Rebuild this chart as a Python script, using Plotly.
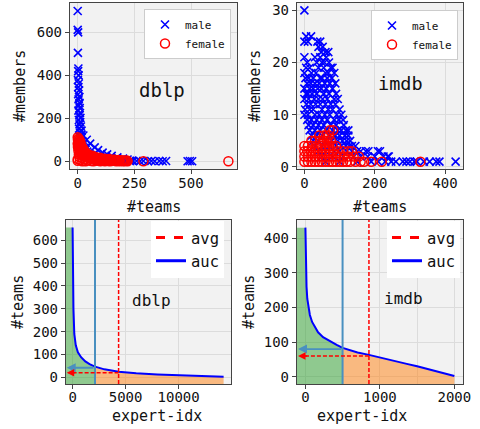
import plotly.graph_objects as go

FONT = "DejaVu Sans Mono"

# ---------------- data ----------------
# dblp: (#teams, #members)
dblp_male = [
    (0, 700), (0, 612), (2, 600), (1, 505), (3, 432), (2, 420), (4, 400), (1, 378), (5, 362), (3, 345),
    (6, 330), (2, 312), (7, 300), (4, 288), (8, 272), (5, 260), (9, 248), (3, 236), (10, 225), (7, 214),
    (12, 202), (5, 192), (11, 182), (8, 172), (14, 162), (6, 152), (17, 143), (13, 142), (10, 133), (25, 120),
    (17, 124), (8, 116), (16, 108), (12, 100), (40, 100), (20, 93), (15, 86), (24, 80), (55, 82), (10, 74),
    (22, 68), (75, 65), (30, 63), (18, 58), (35, 54), (90, 52), (26, 50), (42, 45), (32, 41), (110, 40),
    (48, 37), (20, 34), (130, 32), (55, 31), (38, 28), (62, 25), (150, 25), (45, 22), (72, 20), (175, 18),
    (55, 18), (82, 16), (65, 14), (95, 12), (200, 12), (75, 11), (110, 10), (88, 9), (125, 8), (220, 8),
    (100, 7), (140, 6), (115, 6), (155, 5), (130, 4), (170, 4), (150, 3), (190, 3), (240, 3), (175, 2),
    (210, 2), (200, 1), (230, 2), (245, 1), (260, 1), (275, 0), (290, 1), (310, 0), (325, 1), (340, 0),
    (360, 1), (375, 0), (390, 1), (485, 0), (495, 1), (505, 0),
]
dblp_female = [
    (0, 112), (3, 106), (1, 100), (5, 96), (2, 90), (7, 86), (0, 82), (9, 78), (4, 74), (11, 70),
    (1, 66), (14, 62), (6, 58), (18, 54), (3, 50), (22, 47), (10, 44), (28, 41), (15, 38), (35, 35),
    (5, 32), (42, 30), (20, 28), (50, 26), (30, 24), (58, 22), (8, 20), (65, 19), (40, 18), (75, 16),
    (20, 15), (85, 14), (50, 13), (95, 12), (0, 10), (105, 11), (60, 10), (115, 9), (30, 8), (125, 8),
    (75, 7), (135, 7), (10, 6), (145, 6), (90, 5), (155, 5), (45, 4), (165, 4), (110, 3), (175, 3),
    (0, 2), (185, 2), (130, 2), (195, 2), (60, 1), (205, 1), (150, 1), (212, 1), (20, 0), (220, 0),
    (100, 0), (170, 0), (8, 100), (12, 90), (3, 84), (15, 76), (8, 64), (20, 66), (12, 52), (26, 56),
    (18, 44), (32, 46), (25, 34), (40, 38), (35, 28), (48, 32), (45, 22), (66, 26), (55, 16), (80, 20),
    (68, 12), (100, 16), (82, 10), (120, 12), (95, 8), (140, 10), (105, 5), (160, 8), (120, 6), (180, 6),
    (135, 4), (195, 5), (148, 3), (208, 4), (160, 2), (218, 3), (35, 0), (70, 0), (85, 2), (120, 0),
    (140, 0), (185, 0), (200, 0), (290, 0), (665, 0),
]

# imdb: rows of (#members, [#teams ...])
imdb_male = [
    (30, [0]),
    (25, [5, 19]),
    (24, [0, 10, 37, 45]),
    (23, [40, 52]),
    (22, [48, 60, 68]),
    (21, [0, 30, 45, 62]),
    (20, [8, 35, 50, 57, 70]),
    (19, [5, 15, 40, 55, 75, 80]),
    (18, [0, 20, 33, 60, 68, 85]),
    (17, [3, 12, 25, 45, 50, 65, 78]),
    (16, [8, 18, 30, 42, 58, 72, 88]),
    (15, [0, 15, 25, 38, 48, 62, 80]),
    (14, [5, 10, 22, 35, 55, 70, 90]),
    (13, [0, 12, 28, 40, 52, 65, 85, 95]),
    (12, [6, 18, 32, 45, 60, 75, 88]),
    (11, [2, 15, 25, 50, 68, 80, 100]),
    (10, [0, 10, 30, 42, 58, 72, 92, 105]),
    (9, [8, 20, 35, 50, 65, 85, 98, 110]),
    (8, [12, 25, 40, 55, 75, 90, 112]),
    (7, [15, 30, 45, 62, 80, 95, 105, 118, 125]),
    (6, [20, 35, 50, 70, 88, 100, 115, 125]),
    (5, [25, 40, 60, 78, 95, 108, 120, 130]),
    (4, [30, 50, 70, 90, 105, 118, 128, 135, 145]),
    (3, [40, 60, 85, 100, 120, 135, 150, 160, 175, 182, 209, 215]),
    (2, [50, 80, 110, 140, 160, 180, 200, 225, 237, 240]),
    (1, [60, 100, 150, 190, 210, 230, 247, 260, 280, 290, 300, 313, 320, 340, 356, 375, 384, 430]),
]
imdb_female = [
    (7, [72, 82]),
    (6, [42, 55, 62, 70]),
    (5, [20, 30, 45, 55, 65, 75]),
    (4, [0, 10, 22, 35, 48, 60, 70, 80, 90]),
    (3, [0, 8, 18, 28, 38, 50, 60, 70, 82, 95, 110, 125, 135]),
    (2, [0, 10, 20, 30, 40, 50, 60, 70, 80, 90, 100, 112, 125, 140, 155]),
    (1, [0, 10, 20, 30, 40, 50, 60, 70, 80, 90, 100, 110, 120, 130, 145, 160, 170, 190, 220, 330]),
]

# sorted #teams per expert
dblp_idx = [0, 30, 80, 160, 300, 500, 800, 1200, 1600, 2113, 3000, 4340, 6000, 8000, 10000, 12000, 14245]
dblp_teams = [655, 450, 300, 190, 140, 110, 88, 70, 58, 47, 35, 25, 18, 13, 9, 6, 3]
dblp_split = 2113
dblp_avg = 4340

imdb_idx = [0, 3, 8, 15, 25, 40, 60, 90, 125, 170, 237, 320, 420, 499, 600, 700, 853, 1000, 1200, 1361,
            1500, 1675, 1850, 2000]
imdb_teams = [430, 380, 310, 260, 225, 200, 178, 158, 143, 128, 114, 103, 92, 83, 76, 70, 63, 55, 44, 37,
              30, 20, 11, 2]
imdb_split = 499
imdb_avg = 853

# tick labels
tl_x = [0, 250, 500]
tl_y = [0, 200, 400, 600]
tr_x = [0, 200, 400]
tr_y = [0, 10, 20, 30]
bl_x = [0, 5000, 10000]
bl_y = [0, 100, 200, 300, 400, 500, 600]
br_x = [0, 1000, 2000]
br_y = [0, 100, 200, 300, 400]

# ---------------- helpers ----------------
def unzip(pairs):
    return [p[0] for p in pairs], [p[1] for p in pairs]


def rows_xy(rows):
    xs, ys = [], []
    for m, teams in rows:
        for t in teams:
            xs.append(t)
            ys.append(m)
    return xs, ys


def interp(x, xs, ys):
    for i in range(1, len(xs)):
        if xs[i] >= x:
            f = (x - xs[i - 1]) / (xs[i] - xs[i - 1])
            return ys[i - 1] + f * (ys[i] - ys[i - 1])
    return ys[-1]


BLUE_LINE = "#4990c0"
GRID = "#dcdcdc"
BG = "#f2f2f2"

fig = go.Figure()

# ---------------- scatter panels ----------------
male_marker = dict(symbol="x-thin", size=8, color="blue", line=dict(width=1.6, color="blue"))
female_marker = dict(symbol="circle-open", size=9, color="red", line=dict(width=1.5))

for (male, female, xa, ya, leg, rows) in [
    (dblp_male, dblp_female, "x", "y", "legend", False),
    (imdb_male, imdb_female, "x2", "y2", "legend2", True),
]:
    mx, my = rows_xy(male) if rows else unzip(male)
    fx, fy = rows_xy(female) if rows else unzip(female)
    fig.add_trace(go.Scatter(x=mx, y=my, mode="markers", name="male", marker=male_marker,
                             xaxis=xa, yaxis=ya, legend=leg, cliponaxis=True))
    fig.add_trace(go.Scatter(x=fx, y=fy, mode="markers", name="female", marker=female_marker,
                             xaxis=xa, yaxis=ya, legend=leg, cliponaxis=True))

# ---------------- curve panels ----------------
panels = [
    (dblp_idx, dblp_teams, dblp_split, dblp_avg, "x3", "y3", "legend3", [-623, 14943], [-29, 688], -560, 900),
    (imdb_idx, imdb_teams, imdb_split, imdb_avg, "x4", "y4", "legend4", [-113, 2116], [-21, 452], -100, 140),
]
shapes = []
annotations = []
for idx, teams, split, avg, xa, ya, leg, xr, yr, tip, headlen in panels:
    ysplit = interp(split, idx, teams)
    yavg = interp(avg, idx, teams)
    dy = 3 * (yr[1] - yr[0]) / 430
    # green area (left of split)
    gx = [xr[0], xr[0]] + [v for v in idx if v < split] + [split, split]
    gy = [yr[0], teams[0]] + [teams[i] for i, v in enumerate(idx) if v < split] + [ysplit, yr[0]]
    fig.add_trace(go.Scatter(x=gx, y=gy, fill="toself", fillcolor="rgba(44,160,44,0.5)", mode="lines",
                             line=dict(width=0), showlegend=False, hoverinfo="skip", xaxis=xa, yaxis=ya))
    # orange area (right of split)
    ox = [split, split] + [v for v in idx if v > split] + [idx[-1]]
    oy = [yr[0], ysplit] + [teams[i] for i, v in enumerate(idx) if v > split] + [yr[0]]
    fig.add_trace(go.Scatter(x=ox, y=oy, fill="toself", fillcolor="rgba(255,127,14,0.5)", mode="lines",
                             line=dict(width=0), showlegend=False, hoverinfo="skip", xaxis=xa, yaxis=ya))
    # curve
    fig.add_trace(go.Scatter(x=idx, y=teams, mode="lines", line=dict(color="blue", width=2),
                             showlegend=False, xaxis=xa, yaxis=ya))
    # vertical lines
    shapes.append(dict(type="line", xref=xa, yref=ya + " domain", x0=split, x1=split, y0=0, y1=1,
                       line=dict(color=BLUE_LINE, width=2)))
    shapes.append(dict(type="line", xref=xa, yref=ya + " domain", x0=avg, x1=avg, y0=0, y1=1,
                       line=dict(color="red", width=1.5, dash="4px,2px")))
    # arrows
    annotations.append(dict(x=tip, y=ysplit - dy, ax=split, ay=ysplit - dy,
                            xref=xa, yref=ya, axref=xa, ayref=ya, text="", showarrow=True,
                            arrowhead=2, arrowsize=1, arrowwidth=1.8, arrowcolor=BLUE_LINE))
    shapes.append(dict(type="line", xref=xa, yref=ya, x0=avg, x1=tip + headlen * 0.5, y0=yavg - dy,
                       y1=yavg - dy, line=dict(color="red", width=1.5, dash="4px,2px")))
    annotations.append(dict(x=tip, y=yavg - dy, ax=tip + headlen, ay=yavg - dy,
                            xref=xa, yref=ya, axref=xa, ayref=ya, text="", showarrow=True,
                            arrowhead=2, arrowsize=1, arrowwidth=1.5, arrowcolor="red"))
    # legend entries
    fig.add_trace(go.Scatter(x=[None], y=[None], mode="lines", name="avg",
                             line=dict(color="red", width=3, dash="dash"), xaxis=xa, yaxis=ya, legend=leg))
    fig.add_trace(go.Scatter(x=[None], y=[None], mode="lines", name="auc",
                             line=dict(color="blue", width=3), xaxis=xa, yaxis=ya, legend=leg))

# ---------------- axes ----------------
W, H = 480, 429


def dom_x(a, b):
    return [a / W, b / W]


def dom_y(top, bottom):
    return [1 - bottom / H, 1 - top / H]


def axis(domain, rng, tickvals, anchor, is_x, minor=None, standoff=-3):
    d = dict(domain=domain, range=rng, tickvals=tickvals, ticktext=[str(v) for v in tickvals],
             anchor=anchor, showline=True, linecolor="#444",
             linewidth=1.3, mirror=True, ticks="outside", ticklen=4, tickwidth=1.2, tickcolor="#444",
             showgrid=True, gridcolor=GRID, gridwidth=1, zeroline=False, automargin=False,
             tickfont=dict(family=FONT, size=14, color="#111"))
    if is_x:
        d["ticklabelstandoff"] = standoff
    if minor:
        d["minor"] = minor
    return d


fig.update_layout(
    width=W, height=H, margin=dict(l=0, r=0, t=0, b=0),
    paper_bgcolor="white", plot_bgcolor=BG,
    xaxis=axis(dom_x(70, 237), [-34, 703], tl_x, "y", True),
    yaxis=axis(dom_y(3, 169), [-36, 737], tl_y, "x", False),
    xaxis2=axis(dom_x(297, 463), [-21, 451], tr_x, "y2", True),
    yaxis2=axis(dom_y(3, 169), [-0.4, 31.4], tr_y, "x2", False),
    xaxis3=axis(dom_x(66, 231), [-623, 14943], bl_x, "y3", True, standoff=-4),
    yaxis3=axis(dom_y(220, 384), [-29, 688], bl_y, "x3", False),
    xaxis4=axis(dom_x(297, 463), [-113, 2116], br_x, "y4", True,
                minor=dict(dtick=500, tick0=0, showgrid=True, gridcolor=GRID, ticklen=0), standoff=-4),
    yaxis4=axis(dom_y(220, 384), [-21, 452], br_y, "x4", False),
    showlegend=True,
)

small_leg = dict(font=dict(family=FONT, size=11, color="#111"), bgcolor="white", bordercolor="#cccccc",
                 borderwidth=1, xanchor="right", yanchor="top", tracegroupgap=0)
big_leg = dict(font=dict(family=FONT, size=15.5, color="#111"), bgcolor="white", bordercolor="white",
               borderwidth=0, xanchor="right", yanchor="top")
fig.update_layout(
    legend=dict(small_leg, x=231 / W, y=1 - 9 / H),
    legend2=dict(small_leg, x=458 / W, y=1 - 10 / H),
    legend3=dict(big_leg, x=224 / W, y=1 - 221 / H),
    legend4=dict(big_leg, x=460 / W, y=1 - 221 / H),
)

# panel labels
for txt, xa, ya, x, y, size in [("dblp", "x", "y", 373, 330, 19), ("imdb", "x2", "y2", 274, 16, 18.5),
                                 ("dblp", "x3", "y3", 7453, 336, 16), ("imdb", "x4", "y4", 1315, 225, 16)]:
    annotations.append(dict(x=x, y=y, xref=xa, yref=ya, text=txt, showarrow=False,
                            font=dict(family=FONT, size=size, color="#111")))

# axis titles
for txt, px, py, ang in [("#teams", 153.5, 207, 0), ("#members", 20, 86, -90),
                          ("#teams", 380, 207, 0), ("#members", 255, 86, -90),
                          ("expert-idx", 157, 416, 0), ("#teams", 18, 302, -90),
                          ("expert-idx", 362, 416, 0), ("#teams", 249, 302, -90)]:
    annotations.append(dict(x=px / W, y=1 - py / H, xref="paper", yref="paper", text=txt, showarrow=False,
                            textangle=ang, xanchor="center", yanchor="middle",
                            font=dict(family=FONT, size=15, color="#111")))

fig.update_layout(shapes=shapes, annotations=annotations)
fig.write_html("out.html", post_script="document.body.style.margin='0';",
               config={"displayModeBar": False})
